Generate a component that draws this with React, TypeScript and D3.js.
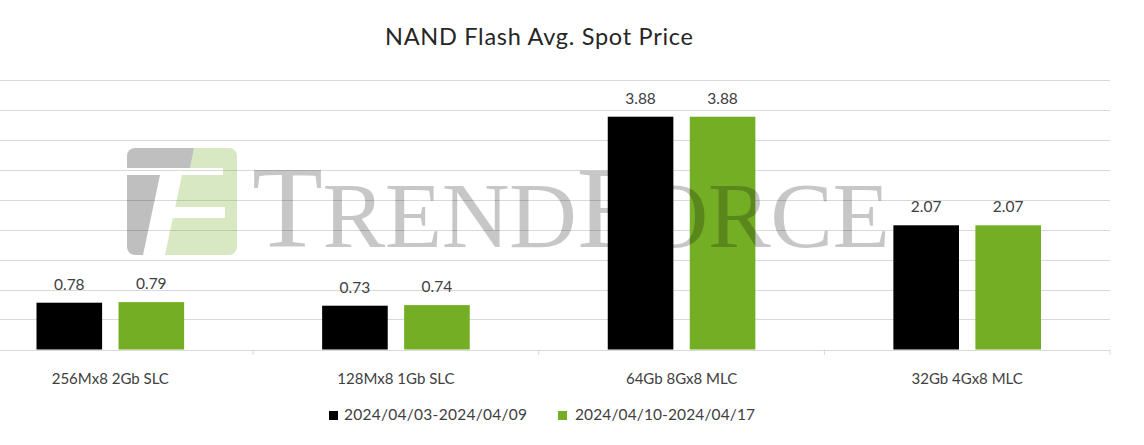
import React from "react";
import * as d3 from "d3";

const categories = ["256Mx8 2Gb SLC", "128Mx8 1Gb SLC", "64Gb 8Gx8 MLC", "32Gb 4Gx8 MLC"];
const seriesNames = ["2024/04/03-2024/04/09", "2024/04/10-2024/04/17"];
const seriesA = [0.78, 0.73, 3.88, 2.07];
const seriesB = [0.79, 0.74, 3.88, 2.07];
const yTicks = [0, 0.5, 1, 1.5, 2, 2.5, 3, 3.5, 4, 4.5];
const colors = ["#000000", "#74ae25"];
const title = "NAND Flash Avg. Spot Price";

const W = 1144;
const H = 445;
const FONT = "Lato, 'Open Sans', sans-serif";

export default function App() {
  const x0 = d3.scaleBand<string>().domain(categories).range([-32.5, 1110]).padding(0);
  const bw0 = x0.bandwidth();
  const x1 = d3
    .scaleBand<number>()
    .domain([0, 1])
    .range([69, bw0 - 69])
    .paddingInner(0.2)
    .paddingOuter(0);
  const y = d3.scaleLinear().domain([0, 4.5]).range([349.5, 79.5]);
  const series = [seriesA, seriesB];
  const fmt = d3.format(".2f");

  const slant = (yy: number) => 182 - ((yy - 175) * 17) / 80;

  return (
    <svg
      width={W}
      height={H}
      style={{ position: "absolute", left: 0, top: 0, background: "#fff" }}
      fontFamily={FONT}
    >
      <defs>
        <clipPath id="logoClip">
          <rect x={127} y={148} width={110} height={107} rx={8} />
        </clipPath>
      </defs>
      <rect x={0} y={0} width={W} height={H} fill="#fff" />
      <text x={539} y={45} textAnchor="middle" fontSize={23.5} fill="#262626" textLength={308} lengthAdjust="spacing">
        {title}
      </text>

      {/* gridlines */}
      {yTicks.map((t) => (
        <line key={t} x1={0} x2={1110} y1={Math.round(y(t)) + 0.5} y2={Math.round(y(t)) + 0.5} stroke="#d9d9d9" strokeWidth={1} />
      ))}
      {/* category ticks */}
      {categories.map((c) => (
        <line key={c} x1={x0(c)! + bw0} x2={x0(c)! + bw0} y1={349.5} y2={355} stroke="#d9d9d9" />
      ))}

      {/* bars */}
      {categories.map((c, i) => (
        <g key={c} transform={`translate(${x0(c)},0)`}>
          {series.map((s, k) => (
            <g key={k}>
              <rect x={x1(k)} y={y(s[i])} width={x1.bandwidth()} height={y(0) - y(s[i])} fill={colors[k]} />
              <text
                x={x1(k)! + x1.bandwidth() / 2}
                y={y(s[i]) - 13}
                textAnchor="middle"
                fontSize={15.5}
                fill="#404040"
              >
                {fmt(s[i])}
              </text>
            </g>
          ))}
        </g>
      ))}

      {/* category labels */}
      {categories.map((c) => (
        <text key={c} x={x0(c)! + bw0 / 2} y={384} textAnchor="middle" fontSize={15} fill="#404040">
          {c}
        </text>
      ))}

      {/* legend */}
      <rect x={329} y={411} width={9} height={9} fill={colors[0]} />
      <text x={344} y={419.5} fontSize={15.5} fill="#404040" textLength={183} lengthAdjust="spacing">
        {seriesNames[0]}
      </text>
      <rect x={558} y={411} width={9} height={9} fill={colors[1]} />
      <text x={575} y={419.5} fontSize={15.5} fill="#404040" textLength={180} lengthAdjust="spacing">
        {seriesNames[1]}
      </text>

      {/* watermark */}
      <g clipPath="url(#logoClip)">
        <polygon points="127,148 194,148 190,168 127,168" fill="#000" fillOpacity={0.25} />
        <polygon points="127,175 160,175 143,255 127,255" fill="#000" fillOpacity={0.25} />
        <polygon
          points={`194,148 237,148 237,255 165,255 ${slant(218)},218 225,218 225,207 ${slant(207)},207 182,175 223,175 223,168 190,168`}
          fill="#74ae25"
          fillOpacity={0.28}
        />
      </g>
      <text
        x={252}
        y={247}
        fontFamily="'Liberation Serif', 'Times New Roman', serif"
        fill="#000"
        fillOpacity={0.22}
        textLength={638}
        lengthAdjust="spacing"
      >
        <tspan fontSize={116}>T</tspan>
        <tspan fontSize={94}>REND</tspan>
        <tspan fontSize={116}>F</tspan>
        <tspan fontSize={94}>ORCE</tspan>
      </text>
    </svg>
  );
}
